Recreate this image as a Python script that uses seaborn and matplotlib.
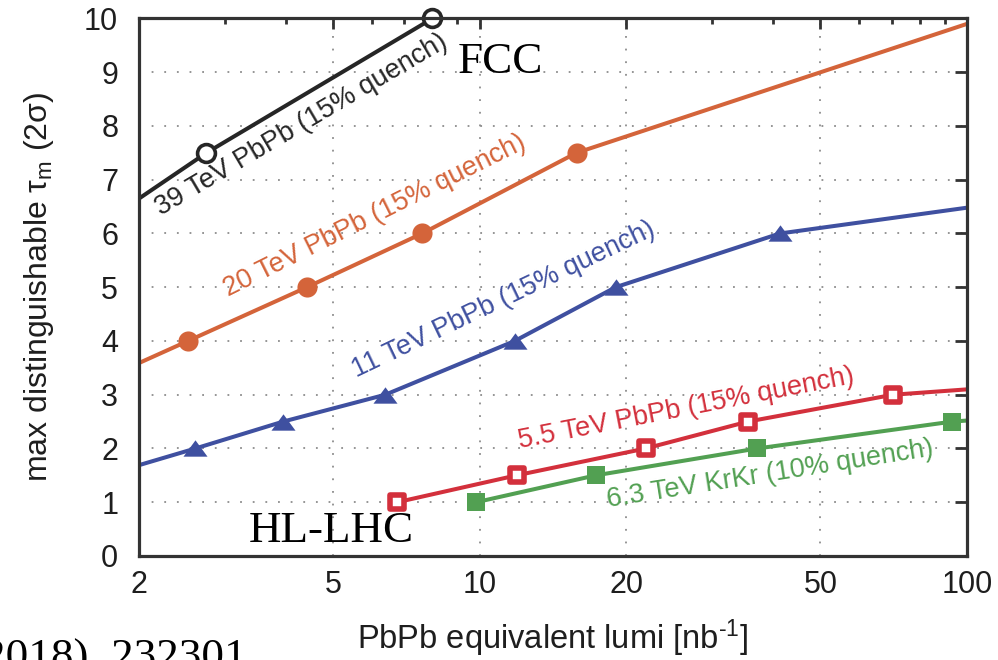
import matplotlib
matplotlib.use("Agg")
import matplotlib.pyplot as plt
from matplotlib.path import Path
from matplotlib.markers import MarkerStyle
from matplotlib.ticker import FixedLocator, NullFormatter
import seaborn as sns

# ---- data: PbPb-equivalent luminosity [nb^-1] vs max distinguishable tau_m (2 sigma)

# 39 TeV PbPb (15% quench)
pb39_pts_x = [2.75, 8.0]
pb39_pts_y = [7.5, 10.0]
pb39_line_x = [2.0, 2.75, 8.0]
pb39_line_y = [6.65, 7.5, 10.0]

# 20 TeV PbPb (15% quench)
pb20_pts_x = [2.52, 4.42, 7.62, 15.8]
pb20_pts_y = [4.0, 5.0, 6.0, 7.5]
pb20_line_x = [2.0, 2.52, 4.42, 7.62, 15.8, 100.0]
pb20_line_y = [3.59, 4.0, 5.0, 6.0, 7.5, 9.9]

# 11 TeV PbPb (15% quench)
pb11_pts_x = [2.61, 3.95, 6.4, 11.8, 19.0, 41.3]
pb11_pts_y = [2.0, 2.5, 3.0, 4.0, 5.0, 6.0]
pb11_line_x = [2.0, 2.61, 3.95, 6.4, 11.8, 19.0, 41.3, 100.0]
pb11_line_y = [1.69, 2.0, 2.5, 3.0, 4.0, 5.0, 6.0, 6.48]

# 5.5 TeV PbPb (15% quench)
pb55_pts_x = [6.77, 11.9, 21.9, 35.5, 70.5]
pb55_pts_y = [1.0, 1.5, 2.0, 2.5, 3.0]
pb55_line_x = [6.77, 11.9, 21.9, 35.5, 70.5, 100.0]
pb55_line_y = [1.0, 1.5, 2.0, 2.5, 3.0, 3.1]

# 6.3 TeV KrKr (10% quench)
kr63_pts_x = [9.83, 17.3, 37.1, 93.2]
kr63_pts_y = [1.0, 1.5, 2.0, 2.5]
kr63_line_x = [9.83, 17.3, 37.1, 93.2, 100.0]
kr63_line_y = [1.0, 1.5, 2.0, 2.5, 2.52]

x_ticks = [2, 5, 10, 20, 50, 100]
x_tick_labels = ["2", "5", "10", "20", "50", "100"]
x_minor = [3, 4, 6, 7, 8, 9, 30, 40, 60, 70, 80, 90]
y_ticks = list(range(0, 11))

labels = {
    "pb39": "39 TeV PbPb (15% quench)",
    "pb20": "20 TeV PbPb (15% quench)",
    "pb11": "11 TeV PbPb (15% quench)",
    "pb55": "5.5 TeV PbPb (15% quench)",
    "kr63": "6.3 TeV KrKr (10% quench)",
}

# ---- style
sns.set_theme(style="white")
plt.rcParams["font.family"] = ["Liberation Sans", "DejaVu Sans"]
plt.rcParams["mathtext.fontset"] = "custom"
plt.rcParams["mathtext.rm"] = "Liberation Sans"
plt.rcParams["mathtext.it"] = "Liberation Sans:italic"

c_black = "#262626"
c_orange = "#d4643a"
c_blue = "#3f50a0"
c_red = "#d3303c"
c_green = "#52a052"
c_axis = "#333333"
c_text = "#1e1e1e"

fig = plt.figure(figsize=(9.98, 6.6), dpi=100)
ax = fig.add_axes([0.1393, 0.1576, 0.8297, 0.8144])
ax.set_xscale("log")

# wide, flat up-triangle
tri = MarkerStyle(Path([(-1, -0.68), (1, -0.68), (0, 0.68), (-1, -0.68)],
                       [Path.MOVETO, Path.LINETO, Path.LINETO, Path.CLOSEPOLY]))

lw = 2.9
series = [
    (pb39_line_x, pb39_line_y, pb39_pts_x, pb39_pts_y, c_black,
     dict(marker="o", s=165, facecolor="white", linewidth=2.6)),
    (pb20_line_x, pb20_line_y, pb20_pts_x, pb20_pts_y, c_orange,
     dict(marker="o", s=210, linewidth=0)),
    (pb11_line_x, pb11_line_y, pb11_pts_x, pb11_pts_y, c_blue,
     dict(marker=tri, s=300, linewidth=0)),
    (pb55_line_x, pb55_line_y, pb55_pts_x, pb55_pts_y, c_red,
     dict(marker="s", s=100, facecolor="white", linewidth=4.0)),
    (kr63_line_x, kr63_line_y, kr63_pts_x, kr63_pts_y, c_green,
     dict(marker="s", s=175, linewidth=0)),
]

for lx, ly, px, py, col, mk in series:
    sns.lineplot(x=lx, y=ly, ax=ax, sort=False, estimator=None,
                 color=col, linewidth=lw, zorder=3)
    sns.scatterplot(x=px, y=py, ax=ax, color=col, edgecolor=col,
                    zorder=4, clip_on=False, **mk)

ax.set_xlim(2, 100)
ax.set_ylim(0, 10)

ax.xaxis.set_major_locator(FixedLocator(x_ticks))
ax.set_xticklabels(x_tick_labels)
ax.xaxis.set_minor_locator(FixedLocator(x_minor))
ax.xaxis.set_minor_formatter(NullFormatter())
ax.set_yticks(y_ticks)
ax.set_yticklabels([str(v) for v in y_ticks])

ax.grid(True, which="major", linestyle=(0, (1, 6)), linewidth=1.3, color="#8c8c8c")
ax.set_axisbelow(True)

for sp in ax.spines.values():
    sp.set_linewidth(2.3)
    sp.set_color(c_axis)
    sp.set_zorder(5)

ax.tick_params(which="both", direction="in", top=True, right=True,
               width=2.0, color=c_axis, labelcolor=c_text)
ax.tick_params(axis="x", which="major", length=8, pad=10, labelsize=22)
ax.tick_params(axis="x", which="minor", length=4.5)
ax.tick_params(axis="y", which="major", length=9, pad=15, labelsize=22)

ax.set_xlabel(r"PbPb equivalent lumi [nb$^{\text{-1}}$]", fontsize=23.5,
              color=c_text, labelpad=13)
ax.set_ylabel(r"max distinguishable τ$_{\mathrm{m}}$ (2σ)", fontsize=23,
              color=c_text, labelpad=20)

# curve labels, rotated along the curves
txt = dict(fontsize=19.5, rotation_mode="anchor", ha="left", va="baseline", zorder=6)
ax.text(2.22, 6.32, labels["pb39"], color=c_black, rotation=30.5, **txt)
ax.text(3.05, 4.83, labels["pb20"], color=c_orange, rotation=26.5, **txt)
ax.text(5.58, 3.31, labels["pb11"], color=c_blue, rotation=25.5, **txt)
ax.text(12.1, 2.0, labels["pb55"], color=c_red, rotation=11, **txt)
ax.text(18.3, 0.91, labels["kr63"], color=c_green, rotation=9, **txt)

serif = dict(family="Liberation Serif", fontsize=32.5, color="black", va="baseline")
ax.text(0.385, 0.899, "FCC", transform=ax.transAxes, zorder=6, **serif)
ax.text(0.132, 0.026, "HL-LHC", transform=ax.transAxes, zorder=6, **serif)
fig.text(0.2475, -0.015, "(2018), 232301", ha="right", **serif)

fig.savefig("out.png", dpi=100)
